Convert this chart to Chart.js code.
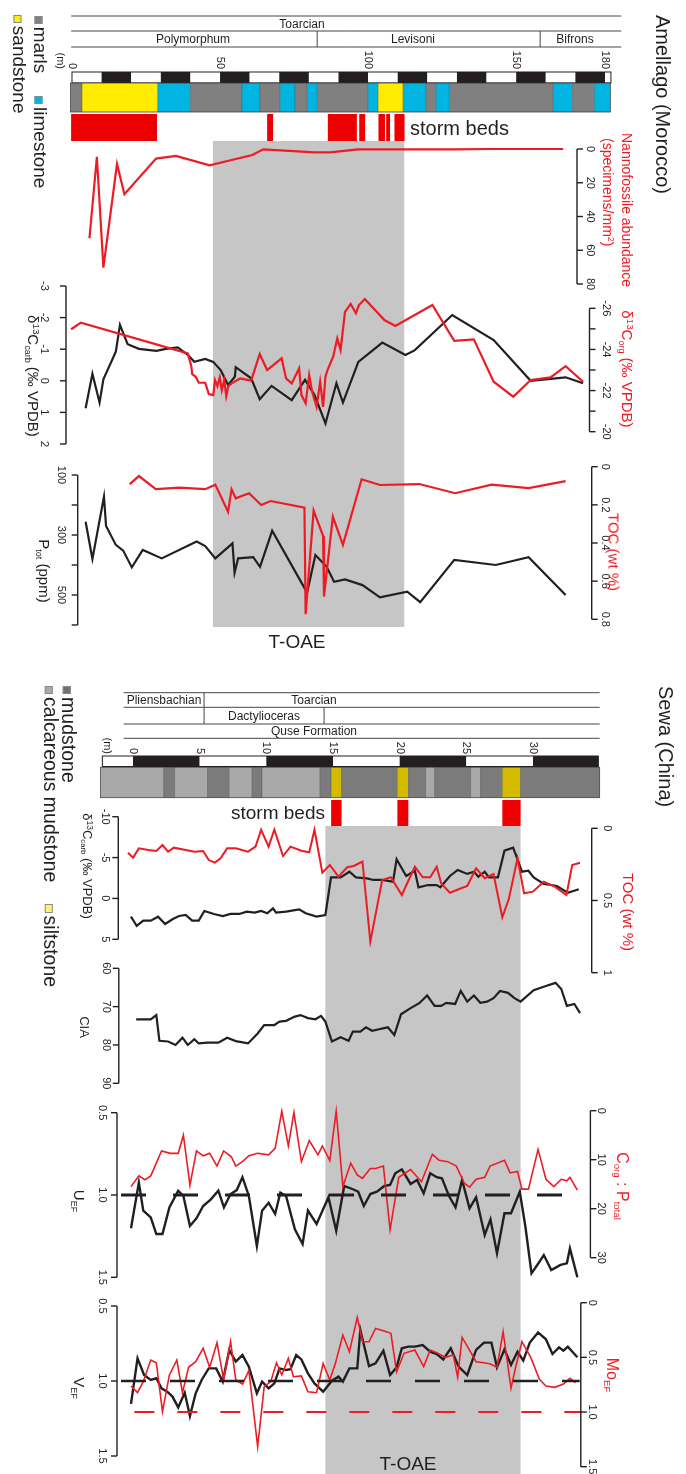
<!DOCTYPE html>
<html>
<head>
<meta charset="utf-8">
<title>Amellago / Sewa T-OAE</title>
<script src="https://cdn.jsdelivr.net/npm/chart.js@4.4.1/dist/chart.umd.min.js"></script>
<style>
  html, body { margin: 0; padding: 0; background: #fff; }
  #page { position: relative; width: 686px; height: 1474px; overflow: hidden;
          font-family: "Liberation Sans", Arial, sans-serif; color: #231f20; }
  #fig { position: absolute; left: 0; top: 0; }
  .lbl { position: absolute; white-space: nowrap; line-height: 1; transform-origin: 0 0; }
  .sp { position: relative; top: -0.5em; font-size: 65%; }
  .sb { position: relative; top: 0.3em; font-size: 60%; }
  .sw { display: inline-block; width: 0.42em; height: 0.42em; vertical-align: middle;
        margin-right: 0.15em; box-sizing: border-box; border: 1px solid #8a8a8a; }
</style>
</head>
<body>
<div id="page"><canvas id="fig" width="686" height="1474"></canvas></div>
<script>
var RED = '#ed1c24';
var INK = '#231f20';
var SHADE = '#c6c6c6';
var FONT = '"Liberation Sans", Arial, sans-serif';

/* ================= Amellago (Morocco), depth in m ================= */
var amDepthTicks = [0, 50, 100, 150, 180];
var amScaleEdges = [0, 10, 20, 30, 40, 50, 60, 70, 80, 90, 100, 110, 120, 130, 140, 150, 160, 170, 180, 182];
var amLithoEdges = [-0.5, 3.4, 29, 40, 57.4, 63.5, 70.3, 75.3, 79.4, 82.8, 100, 103.4, 111.8, 119.6, 123, 127.4, 162.5, 169, 176.4, 181.8];
var amLithoKind = ['marl', 'sand', 'lime', 'marl', 'lime', 'marl', 'lime', 'marl', 'lime', 'marl',
                   'lime', 'sand', 'lime', 'marl', 'lime', 'marl', 'lime', 'marl', 'lime'];
var amStormFrom = [-0.3, 65.9, 86.4, 97.0, 103.5, 106.1, 108.9];
var amStormTo = [28.7, 67.9, 96.2, 99.0, 105.7, 107.4, 112.3];
var amToae = [47.6, 112.2];
var amHeaderSpan = [-0.3, 185.5];
var amZoneBreaks = [82.8, 158.1];

// nannofossil abundance (specimens/mm2)
var amNannoM = [5.9, 8.4, 10.6, 15.2, 17.7, 28.4, 35.1, 46.5, 53.9, 60.9, 64.6, 81.9, 87.1, 96.6, 129, 140.9, 165.9];
var amNanno = [52.9, 4.6, 70.3, 8.9, 26.8, 5.7, 4.1, 9.7, 6.5, 3.6, 0.2, 2.0, 2.0, 0.2, 0.2, 0, 0];
var amNannoTicks = [0, 20, 40, 60, 80];

// d13C carb (black) and d13C org (red)
var amCarbM = [4.6, 6.9, 9.3, 10.6, 14.8, 16.2, 18.8, 22.6, 28.5, 31.7, 35.7, 39.1, 41.3, 45.0, 47.7, 50.2, 52.7, 55.0, 55.3,
               60.5, 63.4, 67.4, 74.2, 78.7, 81.9, 85.6, 89.3, 91.5, 96.7, 104.8, 112.6, 115.8, 128.4, 142.4, 154.9, 166.7, 172.6];
var amCarb = [0.87, -0.22, 0.69, -0.05, -0.92, -1.77, -1.16, -1.01, -0.95, -1.01, -1.06, -0.82, -0.6, -0.69, -0.6, -0.34, 0.13, -0.13, -0.43,
              -0.08, 0.58, 0.16, 0.61, -0.03, 0.45, 1.35, 0.08, 0.69, -0.6, -1.21, -0.82, -0.97, -2.08, -1.29, 0, -0.11, 0.08];
var amCarbTicks = [-3, -2, -1, 0, 1, 2];

var amOrgM = [-0.3, 3.0, 39.1, 40.3, 40.6, 41.8, 42.8, 45.0, 46.2, 47.7, 48.3, 49.1, 49.9, 50.6, 51.4, 52.1, 52.8, 53.9,
              56.8, 60.5, 63.4, 65.9, 70.8, 72.3, 74.2, 76.7, 77.5, 78.9, 80.1, 81.1, 82.6, 83.8, 84.8, 85.6, 86.3, 88.2,
              89.6, 90.7, 92.2, 94.1, 95.9, 96.9, 98.9, 105.5, 109.2, 121.7, 129.1, 135.7, 142.4, 149.0, 154.9, 161.6, 166.7, 172.6];
var amOrg = [-24.98, -25.3, -23.81, -23.19, -22.8, -22.67, -22.38, -22.38, -21.83, -21.78, -22.51, -22.22, -22.64, -22.02, -22.51, -21.73, -22.22, -22.35,
             -22.59, -22.48, -23.78, -23.0, -23.57, -22.59, -22.35, -23.08, -21.78, -21.38, -22.75, -21.94, -21.21, -22.43, -21.21, -22.67, -23.0, -23.65,
             -24.54, -23.97, -25.83, -26.21, -25.76, -26.16, -26.45, -25.43, -25.14, -26.16, -24.42, -24.49, -22.43, -21.7, -22.51, -22.64, -23.19, -22.43];
var amOrgTicks = [-26, -24, -22, -20];
var amOrgMinor = [-25, -23, -21];

// P tot (ppm, black) and TOC (wt %, red)
var amPM = [4.6, 6.9, 10.8, 11.5, 14.8, 17.3, 20.2, 23.9, 30.3, 42.1, 45.0, 48.4, 54.2, 54.9, 56.1, 61.2,
            63.5, 67.6, 79.4, 82.2, 86.0, 88.5, 92.2, 98.1, 104.0, 113.2, 117.6, 129.1, 143.1, 154.2, 166.7];
var amP = [256, 380, 172, 270, 333, 352, 408, 350, 378, 322, 337, 378, 328, 426, 378, 374,
           406, 286, 492, 367, 406, 456, 448, 467, 508, 489, 524, 383, 400, 374, 500];
var amPTicks = [100, 200, 300, 400, 500, 600];
var amPLabels = ['100', '', '300', '', '500', ''];

var amTocM = [19.5, 22.6, 28.3, 36.2, 45.0, 48.4, 52.7, 53.9, 55.3, 59.8, 63.9, 67.1, 78.5, 78.9, 81.6, 84.8,
              85.1, 88.1, 91.5, 97.8, 104.0, 117.3, 129.4, 141.7, 154.2, 166.7];
var amToc = [0.091, 0.049, 0.118, 0.110, 0.118, 0.094, 0.236, 0.118, 0.166, 0.139, 0.201, 0.180, 0.215, 0.773, 0.230, 0.363,
             0.681, 0.262, 0.410, 0.066, 0.096, 0.091, 0.139, 0.094, 0.112, 0.076];
var amTocTicks = [0, 0.2, 0.4, 0.6, 0.8];
var amTocLabels = ['0', '0.2', '0.4', '0.6', '0.8'];

/* ================= Sewa (China), depth in m ================= */
var swDepthTicks = [0, 5, 10, 15, 20, 25, 30];
var swScaleEdges = [-2.3, 0, 5, 10, 15, 20, 25, 30, 34.9];
var swLithoEdges = [-2.44, 2.31, 3.13, 5.58, 7.22, 8.93, 9.68, 14.03, 14.86, 15.64, 19.83, 20.65, 21.96, 22.62, 25.33, 26.05, 27.7, 29.07, 35.0];
var swLithoKind = ['calc', 'mud', 'calc', 'mud', 'calc', 'mud', 'calc', 'mud', 'silt', 'mud', 'silt', 'mud', 'calc', 'mud', 'calc', 'mud', 'silt', 'mud'];
var swStormFrom = [14.86, 19.83, 27.7];
var swStormTo = [15.64, 20.65, 29.07];
var swToae = [14.43, 29.07];
var swHeaderSpan = [-0.7, 35.0];
var swStageBreak = 5.33;
var swZoneBreak = 14.33;

// d13C carb (black) and TOC (red)
var swCarbM = [-0.15, 0.28, 0.77, 1.33, 1.88, 2.41, 2.96, 3.45, 3.95, 4.44, 4.93, 5.35, 6.07, 6.73, 7.32, 7.97, 8.53, 9.12, 9.61, 10.07,
               10.5, 10.73, 11.48, 12.46, 12.95, 13.77, 14.43, 14.85, 15.57, 16.23, 16.72, 17.54, 18.03, 18.69, 19.5, 19.77, 20.49, 21.14, 21.41, 22.13,
               22.78, 23.05, 23.77, 24.35, 25.07, 25.57, 25.9, 26.38, 26.71, 27.37, 27.86, 28.51, 28.84, 29.17, 29.66, 30.05, 30.81, 31.37, 31.79, 32.61, 33.43];
var swCarb = [2.23, 3.37, 2.72, 2.72, 2.23, 3.13, 2.55, 2.15, 2.03, 2.72, 2.72, 1.54, 1.9, 2.15, 1.9, 1.9, 1.62, 1.74, 1.54, 1.82,
              1.21, 1.74, 1.62, 1.33, 1.82, 2.23, 2.03, -2.58, -2.58, -3.27, -2.58, -2.46, -2.26, -2.26, -2.05, -4.79, -2.75, -3.39, -1.36, -1.64,
              -1.64, -1.36, -2.75, -3.48, -3.0, -3.27, -2.66, -3.27, -2.58, -2.58, -5.84, -6.21, -4.79, -3.27, -3.39, -2.58, -1.77, -1.64, -1.52, -0.70, -1.12];
var swCarbTicks = [-10, -5, 0, 5];

var swTocM = [-0.38, 0.01, 0.44, 1.16, 1.75, 2.21, 2.63, 3.06, 3.95, 4.6, 5.26, 5.68, 6.14, 6.57, 7.06, 7.71, 8.63, 9.19, 9.61, 10.17,
              10.6, 11.25, 11.81, 12.63, 13.22, 13.61, 14.2, 14.76, 15.41, 16.07, 16.56, 17.21, 17.8, 18.69, 19.34, 20.16, 21.14, 21.73, 22.29, 22.78,
              23.11, 23.77, 24.42, 25.07, 25.73, 26.38, 27.04, 27.7, 28.18, 28.84, 29.33, 29.99, 30.81, 31.63, 32.51, 32.94, 33.53];
var swToc = [0.169, 0.203, 0.139, 0.15, 0.157, 0.116, 0.162, 0.134, 0.15, 0.162, 0.157, 0.22, 0.238, 0.208, 0.139, 0.139, 0.162, 0.127, 0.01, 0.127,
             0.01, 0.192, 0.127, 0.155, 0.166, 0.01, 0.307, 0.254, 0.335, 0.27, 0.261, 0.231, 0.785, 0.358, 0.339, 0.462, 0.266, 0.339, 0.339, 0.266,
             0.381, 0.446, 0.422, 0.4, 0.277, 0.346, 0.316, 0.616, 0.492, 0.208, 0.45, 0.439, 0.37, 0.404, 0.462, 0.254, 0.238];
var swTocTicks = [0, 0.5, 1];
var swTocLabels = ['0', '0.5', '1'];

// CIA
var swCiaM = [0.24, 1.33, 1.75, 1.98, 2.63, 3.19, 3.71, 4.11, 4.6, 4.93, 5.58, 6.4, 7.06, 7.71, 8.63, 9.35, 9.84, 10.6, 10.99, 11.48,
              12.14, 12.56, 13.12, 13.68, 14.1, 14.43, 14.92, 15.57, 16.17, 16.49, 17.05, 17.47, 17.93, 18.45, 19.11, 19.6, 20.1, 20.82, 21.47, 22.06,
              22.62, 23.11, 23.5, 24.16, 24.58, 25.07, 25.57, 26.05, 26.55, 27.04, 27.53, 28.12, 28.61, 29.07, 30.05, 30.97, 31.69, 32.12, 32.54, 33.1, 33.53];
var swCia = [73.3, 73.3, 72.2, 78.9, 79.1, 80.0, 78.1, 80.0, 78.5, 79.6, 79.4, 79.4, 78.1, 79.0, 79.6, 77.0, 74.8, 74.8, 73.9, 73.7,
             72.6, 72.2, 73.0, 73.3, 72.4, 73.9, 79.1, 78.0, 78.9, 76.5, 76.5, 75.4, 76.3, 75.9, 75.4, 77.4, 72.0, 70.4, 69.1, 67.1,
             69.8, 69.8, 69.0, 69.3, 65.9, 68.7, 67.1, 69.0, 68.7, 67.8, 65.9, 66.4, 67.8, 68.7, 65.7, 64.6, 63.8, 65.4, 69.8, 69.3, 71.7];
var swCiaTicks = [60, 70, 80, 90];

// U EF (black) and Corg:Ptotal (red)
var swUM = [-0.15, 0.44, 0.77, 1.33, 1.75, 2.21, 2.73, 3.39, 3.78, 4.27, 4.76, 5.26, 5.84, 6.4, 6.82, 7.32, 7.78, 8.21, 8.69, 9.29,
            9.68, 10.17, 10.66, 11.05, 11.48, 12.14, 12.72, 13.12, 13.77, 14.66, 15.24, 15.84, 16.49, 16.89, 17.31, 17.8, 18.29, 18.85, 19.28, 19.67,
            20.16, 20.82, 21.3, 21.8, 22.29, 22.78, 23.17, 23.7, 24.19, 24.68, 25.24, 25.73, 26.38, 26.81, 27.3, 27.86, 28.35, 29.01, 29.43, 29.89,
            30.32, 30.81, 31.37, 32.06, 32.54, 32.77, 33.33];
var swU = [1.202, 0.925, 1.095, 1.136, 1.237, 1.237, 1.075, 0.974, 1.006, 1.188, 1.142, 1.067, 1.026, 0.974, 1.075, 0.994, 0.97, 0.892, 1.006, 1.31,
           1.095, 1.047, 1.115, 0.986, 1.006, 1.208, 1.298, 1.095, 1.176, 1.014, 1.217, 0.945, 0.965, 0.98, 1.067, 0.994, 0.98, 0.945, 0.939, 0.868,
           0.844, 0.933, 0.909, 0.99, 0.868, 0.892, 0.899, 1.006, 1.075, 0.909, 1.081, 1.014, 1.243, 1.148, 1.354, 1.111, 1.111, 0.98, 1.193, 1.476,
           1.425, 1.365, 1.456, 1.425, 1.415, 1.324, 1.5];
var swUTicks = [0.5, 1.0, 1.5];
var swEfLabels = ['0.5', '1.0', '1.5'];
var swURefM = [-0.9, 33.6];
var swURef = [1.0, 1.0];

var swCpM = [-0.15, 0.44, 0.9, 1.33, 2.14, 2.8, 3.39, 3.78, 4.27, 4.76, 5.26, 5.75, 6.3, 6.8, 7.38, 7.71, 8.21, 8.69, 9.35, 10.17,
             10.66, 11.16, 11.65, 12.07, 12.63, 13.22, 13.87, 14.2, 14.76, 15.24, 15.74, 16.33, 16.82, 17.21, 17.8, 18.19, 18.78, 19.28, 19.93, 20.82,
             21.63, 22.45, 22.95, 23.6, 24.25, 24.85, 25.24, 25.73, 26.38, 26.78, 27.86, 28.28, 28.84, 29.17, 29.66, 30.38, 30.97, 31.56, 32.12, 32.54,
             32.77, 33.33];
var swCp = [15.5, 13.3, 14.1, 13.3, 8.2, 8.7, 8.7, 5.0, 15.2, 8.2, 9.2, 8.7, 11.3, 8.2, 9.4, 11.3, 10.4, 9.2, 8.7, 9.0,
            7.7, 0.1, 7.2, 0.4, 10.4, 6.1, 9.0, 7.2, 10.2, 0.1, 15.5, 10.7, 13.1, 13.8, 11.8, 11.8, 11.3, 24.3, 13.6, 12.0,
            14.5, 8.9, 10.1, 10.4, 11.3, 14.8, 15.6, 14.0, 13.6, 11.3, 10.1, 12.7, 12.4, 16.0, 16.0, 7.9, 14.0, 15.5, 14.0, 14.3,
            13.6, 16.2];
var swCpTicks = [0, 10, 20, 30];

// V EF (black) and Mo EF (red)
var swVM = [-0.15, 0.34, 0.83, 1.33, 1.75, 2.14, 2.57, 2.96, 3.39, 3.88, 4.27, 4.7, 5.15, 5.68, 6.24, 6.73, 7.22, 7.71, 8.21, 8.69,
            9.29, 9.68, 10.17, 10.6, 10.99, 11.48, 11.81, 12.24, 12.63, 13.12, 13.61, 14.26, 14.92, 15.41, 15.74, 16.23, 16.82, 17.05, 17.7, 18.19,
            18.78, 19.28, 19.77, 20.16, 20.65, 21.14, 21.73, 22.29, 22.78, 23.27, 23.83, 24.42, 25.07, 25.73, 26.32, 26.88, 27.3, 27.86, 28.35, 28.84,
            29.27, 29.76, 30.38, 30.97, 31.46, 31.95, 32.28, 32.61, 33.33];
var swV = [1.153, 0.849, 0.96, 0.993, 0.982, 1.049, 1.071, 1.104, 1.176, 1.078, 1.233, 1.082, 0.993, 0.916, 0.916, 1.004, 0.793, 0.871, 0.827, 0.904,
           1.082, 1.004, 1.049, 1.016, 0.916, 0.927, 0.922, 0.827, 0.856, 0.949, 1.016, 1.071, 0.998, 0.971, 1.004, 0.916, 0.916, 0.66, 0.9, 0.882,
           0.798, 0.96, 0.909, 0.782, 0.771, 0.771, 0.76, 0.804, 0.82, 0.856, 0.782, 0.904, 0.96, 0.793, 0.744, 0.744, 0.909, 0.789, 0.893, 0.804,
           0.864, 0.744, 0.676, 0.722, 0.82, 0.776, 0.798, 0.771, 0.842];
var swVTicks = [0.5, 1.0, 1.5];
var swVRefM = [-0.9, 33.5];
var swVRef = [1.0, 1.0];

var swMoM = [-0.15, 0.34, 0.77, 1.33, 1.75, 2.21, 2.73, 3.29, 3.71, 4.17, 4.7, 5.26, 5.75, 6.3, 6.8, 7.32, 7.71, 8.21, 8.69, 9.35,
             9.84, 10.33, 10.76, 11.16, 11.65, 12.03, 12.63, 13.12, 13.77, 14.26, 14.76, 15.18, 15.74, 16.23, 16.82, 17.21, 17.7, 18.19, 18.78, 19.34,
             19.77, 20.33, 21.14, 21.8, 22.29, 22.78, 23.43, 24.02, 24.35, 24.68, 25.24, 25.73, 26.32, 26.81, 27.3, 27.76, 28.35, 28.68, 29.17, 29.83,
             30.48, 30.97, 31.63, 32.28, 32.77, 33.19];
var swMo = [0.762, 0.823, 0.722, 0.524, 0.549, 0.997, 0.661, 0.524, 0.823, 0.591, 0.54, 0.417, 0.591, 0.366, 0.707, 0.357, 0.707, 0.744, 0.622, 1.317,
            0.768, 0.722, 0.549, 0.661, 0.509, 0.677, 0.67, 0.814, 0.823, 0.555, 0.707, 0.555, 0.296, 0.448, 0.134, 0.357, 0.357, 0.235, 0.256, 0.28,
            0.631, 0.463, 0.433, 0.585, 0.433, 0.457, 0.5, 0.478, 0.682, 0.317, 0.433, 0.54, 0.549, 0.561, 0.591, 0.265, 0.783, 0.6, 0.357, 0.5,
            0.701, 0.762, 0.774, 0.744, 0.692, 0.732];
var swMoTicks = [0, 0.5, 1.0, 1.5];
var swMoLabels = ['0', '0.5', '1.0', '1.5'];
var swMoRefM = [0.1, 33.6];
var swMoRef = [1.0, 1.0];

/* ================= layout (pixels) ================= */
// pixel band of each scale: [start, end] <-> [min, max] of its range
// (depth scales are a bit wider than the data so no point is dropped)
var bands = {
  xA: [57.19, 634.61], yNano: [149, 284], yCarbA: [286, 444], yOrgA: [308.3, 431.7], yPA: [475, 625], yTocA: [466.7, 619.3],
  xS: [93, 613], yCarbS: [816.7, 939.3], yTocS: [828.3, 972.7], yCia: [968.3, 1083.3],
  yU: [1112.7, 1277.3], yCP: [1110.7, 1257.7], yV: [1306, 1456], yMo: [1302.7, 1466.7]
};
var amRows = { header: [16, 31, 47], scale: [72, 83], litho: [83, 112], storm: [114, 141], shade: [141, 627], depthEnd: 69 };
var swRows = { header: [692.7, 707.3, 724, 738.3], scale: [756, 766.5], litho: [767.3, 797.7], storm: [800, 826], shade: [826, 1474], depthEnd: 754 };

var LITHO = { marl: '#808080', sand: '#ffec00', lime: '#00b5e2', calc: '#a9a9a9', mud: '#7b7b7b', silt: '#d5bb00' };

// axes: scale id, x of the axis line, tick direction, x of tick labels
var axisDefs = [
  { id: 'yNano', x: 577, dir: 1, lx: 590, ticks: amNannoTicks },
  { id: 'yCarbA', x: 66, dir: -1, lx: 44, ticks: amCarbTicks },
  { id: 'yOrgA', x: 589.5, dir: 1, lx: 606, ticks: amOrgTicks, minor: amOrgMinor },
  { id: 'yPA', x: 77.7, dir: -1, lx: 61, ticks: amPTicks, labels: amPLabels },
  { id: 'yTocA', x: 591.7, dir: 1, lx: 605, ticks: amTocTicks, labels: amTocLabels },
  { id: 'yCarbS', x: 118.3, dir: -1, lx: 105, ticks: swCarbTicks },
  { id: 'yTocS', x: 591.7, dir: 1, lx: 607, ticks: swTocTicks, labels: swTocLabels },
  { id: 'yCia', x: 118.8, dir: -1, lx: 106, ticks: swCiaTicks },
  { id: 'yU', x: 117, dir: -1, lx: 102, ticks: swUTicks, labels: swEfLabels },
  { id: 'yCP', x: 590.4, dir: 1, lx: 601, ticks: swCpTicks },
  { id: 'yV', x: 117, dir: -1, lx: 102, ticks: swVTicks, labels: swEfLabels },
  { id: 'yMo', x: 580.8, dir: 1, lx: 592, ticks: swMoTicks, labels: swMoLabels }
];

function zip(xs, ys) {
  var out = [];
  for (var i = 0; i < xs.length; i++) out.push({ x: xs[i], y: ys[i] });
  return out;
}

function series(xs, ys, xId, yId, color, width, dash) {
  return {
    data: zip(xs, ys), xAxisID: xId, yAxisID: yId,
    borderColor: color, borderWidth: width, borderDash: dash || [],
    pointRadius: 0, tension: 0, fill: false, clip: false, borderJoinStyle: 'miter'
  };
}

function lin(min, max) {
  return { type: 'linear', display: false, min: min, max: max, reverse: true, bounds: 'data' };
}

/* ---------- drawing helpers (all positions from the scales) ---------- */
function span(ctx, scale, v0, v1, row) {
  var x0 = scale.getPixelForValue(v0), x1 = scale.getPixelForValue(v1);
  ctx.fillRect(x0, row[0], x1 - x0, row[1] - row[0]);
}

function outline(ctx, scale, v0, v1, row, color, w) {
  var x0 = scale.getPixelForValue(v0), x1 = scale.getPixelForValue(v1);
  ctx.strokeStyle = color; ctx.lineWidth = w;
  ctx.strokeRect(x0, row[0], x1 - x0, row[1] - row[0]);
}

function hline(ctx, scale, sp, y) {
  ctx.beginPath();
  ctx.moveTo(scale.getPixelForValue(sp[0]), y);
  ctx.lineTo(scale.getPixelForValue(sp[1]), y);
  ctx.stroke();
}

function vline(ctx, scale, v, y0, y1) {
  var x = scale.getPixelForValue(v);
  ctx.beginPath(); ctx.moveTo(x, y0); ctx.lineTo(x, y1); ctx.stroke();
}

function rotText(ctx, text, x, y, align) {
  ctx.save();
  ctx.translate(x, y);
  ctx.rotate(Math.PI / 2);
  ctx.textAlign = align || 'center';
  ctx.textBaseline = 'middle';
  ctx.fillText(text, 0, 0);
  ctx.restore();
}

function drawColumn(ctx, scale, rows, scaleEdges, lithoEdges, lithoKind, stormFrom, stormTo, depthTicks) {
  var i;
  // scale bar, alternating white / black
  for (i = 0; i < scaleEdges.length - 1; i++) {
    ctx.fillStyle = i % 2 ? INK : '#fff';
    span(ctx, scale, scaleEdges[i], scaleEdges[i + 1], rows.scale);
  }
  outline(ctx, scale, scaleEdges[0], scaleEdges[scaleEdges.length - 1], rows.scale, INK, 1);
  // lithology
  for (i = 0; i < lithoKind.length; i++) {
    ctx.fillStyle = LITHO[lithoKind[i]];
    span(ctx, scale, lithoEdges[i], lithoEdges[i + 1], rows.litho);
    outline(ctx, scale, lithoEdges[i], lithoEdges[i + 1], rows.litho, 'rgba(60,60,60,0.45)', 0.6);
  }
  outline(ctx, scale, lithoEdges[0], lithoEdges[lithoEdges.length - 1], rows.litho, 'rgba(50,50,50,0.7)', 0.8);
  // storm beds
  ctx.fillStyle = '#ee0000';
  for (i = 0; i < stormFrom.length; i++) span(ctx, scale, stormFrom[i], stormTo[i], rows.storm);
  // depth labels
  ctx.fillStyle = INK;
  ctx.font = '11px ' + FONT;
  depthTicks.forEach(function (v) {
    rotText(ctx, String(v), scale.getPixelForValue(v), rows.depthEnd, 'right');
  });
}

function drawAxis(ctx, chart, a) {
  var s = chart.scales[a.id];
  var yTop = s.getPixelForValue(a.ticks[0]);
  var yBot = s.getPixelForValue(a.ticks[a.ticks.length - 1]);
  ctx.strokeStyle = INK;
  ctx.lineWidth = 1.4;
  ctx.beginPath(); ctx.moveTo(a.x, yTop); ctx.lineTo(a.x, yBot); ctx.stroke();
  ctx.font = '11px ' + FONT;
  ctx.fillStyle = INK;
  a.ticks.forEach(function (v, i) {
    var y = s.getPixelForValue(v);
    ctx.beginPath(); ctx.moveTo(a.x, y); ctx.lineTo(a.x + a.dir * 6, y); ctx.stroke();
    var t = a.labels ? a.labels[i] : String(v);
    if (t) rotText(ctx, t, a.lx, y);
  });
  (a.minor || []).forEach(function (v) {
    var y = s.getPixelForValue(v);
    ctx.beginPath(); ctx.moveTo(a.x, y); ctx.lineTo(a.x + a.dir * 6, y); ctx.stroke();
  });
}

var figPlugin = {
  id: 'figure',
  // pin every scale to its own pixel band, before the lines are laid out
  afterLayout: function (chart) {
    Object.keys(bands).forEach(function (id) {
      var s = chart.scales[id], b = bands[id];
      if (s.isHorizontal()) { s.left = b[0]; s.right = b[1]; s.width = b[1] - b[0]; }
      else { s.top = b[0]; s.bottom = b[1]; s.height = b[1] - b[0]; }
      s.configure();
    });
  },
  beforeDatasetsDraw: function (chart) {
    var ctx = chart.ctx, xa = chart.scales.xA, xs = chart.scales.xS;
    ctx.save();
    // T-OAE shading
    ctx.fillStyle = SHADE;
    span(ctx, xa, amToae[0], amToae[1], amRows.shade);
    span(ctx, xs, swToae[0], swToae[1], swRows.shade);

    // stratigraphic headers
    ctx.strokeStyle = '#4a4446';
    ctx.lineWidth = 1;
    amRows.header.forEach(function (y) { hline(ctx, xa, amHeaderSpan, y); });
    amZoneBreaks.forEach(function (v) { vline(ctx, xa, v, amRows.header[1], amRows.header[2]); });
    swRows.header.forEach(function (y) { hline(ctx, xs, swHeaderSpan, y); });
    vline(ctx, xs, swStageBreak, swRows.header[0], swRows.header[2]);
    vline(ctx, xs, swZoneBreak, swRows.header[1], swRows.header[2]);

    drawColumn(ctx, xa, amRows, amScaleEdges, amLithoEdges, amLithoKind, amStormFrom, amStormTo, amDepthTicks);
    drawColumn(ctx, xs, swRows, swScaleEdges, swLithoEdges, swLithoKind, swStormFrom, swStormTo, swDepthTicks);
    ctx.restore();
  },
  afterDatasetsDraw: function (chart) {
    var ctx = chart.ctx;
    ctx.save();
    axisDefs.forEach(function (a) { drawAxis(ctx, chart, a); });
    ctx.restore();
  }
};

var chart = new Chart(document.getElementById('fig'), {
  type: 'line',
  data: {
    datasets: [
      series(amNannoM, amNanno, 'xA', 'yNano', RED, 2.2),
      series(amOrgM, amOrg, 'xA', 'yOrgA', RED, 2.2),
      series(amCarbM, amCarb, 'xA', 'yCarbA', INK, 2.2),
      series(amTocM, amToc, 'xA', 'yTocA', RED, 2.2),
      series(amPM, amP, 'xA', 'yPA', INK, 2.2),
      series(swTocM, swToc, 'xS', 'yTocS', RED, 2),
      series(swCarbM, swCarb, 'xS', 'yCarbS', INK, 2.2),
      series(swCiaM, swCia, 'xS', 'yCia', INK, 2.2),
      series(swURefM, swURef, 'xS', 'yU', INK, 3, [25, 27]),
      series(swCpM, swCp, 'xS', 'yCP', RED, 1.6),
      series(swUM, swU, 'xS', 'yU', INK, 2.4),
      series(swVRefM, swVRef, 'xS', 'yV', INK, 2.6, [25, 24]),
      series(swMoRefM, swMoRef, 'xS', 'yMo', RED, 2, [20, 23]),
      series(swMoM, swMo, 'xS', 'yMo', RED, 1.6),
      series(swVM, swV, 'xS', 'yV', INK, 2.4)
    ]
  },
  options: {
    responsive: false,
    animation: false,
    devicePixelRatio: 1,
    layout: { padding: 0, autoPadding: false },
    plugins: { legend: { display: false }, tooltip: { enabled: false } },
    events: [],
    scales: {
      xA: { type: 'linear', display: false, min: -5, max: 190, bounds: 'data' },
      xS: { type: 'linear', display: false, min: -3, max: 36, bounds: 'data' },
      yNano: lin(0, 80),
      yCarbA: lin(-3, 2),
      yOrgA: lin(-26, -20),
      yPA: lin(100, 600),
      yTocA: lin(0, 0.8),
      yCarbS: lin(-10, 5),
      yTocS: lin(0, 1),
      yCia: lin(60, 90),
      yU: lin(0.5, 1.5),
      yCP: lin(0, 30),
      yV: lin(0.5, 1.5),
      yMo: lin(0, 1.5)
    }
  },
  plugins: [figPlugin]
});

/* ---------- text labels ---------- */
var page = document.getElementById('page');

function addLabel(html, x, y, o) {
  o = o || {};
  var d = document.createElement('div');
  d.className = 'lbl';
  d.innerHTML = html;
  d.style.left = x + 'px';
  d.style.top = y + 'px';
  d.style.fontSize = (o.size || 14) + 'px';
  if (o.color) d.style.color = o.color;
  var ax = { start: '0', center: '-50%', end: '-100%' }[o.anchor || 'center'];
  d.style.transform = (o.rot ? 'rotate(90deg) ' : '') + 'translate(' + ax + ',-50%)';
  page.appendChild(d);
}

function swatch(color) {
  return '<span class="sw" style="background:' + color + '"></span>';
}
function gap(w) {
  return '<span style="display:inline-block;width:' + w + 'px"></span>';
}

// Amellago
addLabel('Toarcian', 302, 23.5, { size: 12 });
addLabel('Polymorphum', 193, 39, { size: 12 });
addLabel('Levisoni', 413, 39, { size: 12 });
addLabel('Bifrons', 575, 39, { size: 12 });
addLabel('(m)', 60, 69, { size: 11, rot: true, anchor: 'end' });
addLabel('storm beds', 410, 128, { size: 20, anchor: 'start' });
addLabel('Amellago (Morocco)', 663, 15, { size: 20, rot: true, anchor: 'start' });
addLabel(swatch('#808080') + 'marls' + gap(23) + swatch('#00b5e2') + 'limestone', 40, 16, { size: 19, rot: true, anchor: 'start' });
addLabel(swatch('#ffec00') + 'sandstone', 19, 15, { size: 19, rot: true, anchor: 'start' });
addLabel('Nannofossile abundance', 627, 133, { size: 14, rot: true, anchor: 'start', color: RED });
addLabel('(specimens/mm<span class="sp">2</span>)', 608, 138, { size: 14, rot: true, anchor: 'start', color: RED });
addLabel('δ<span class="sp">13</span>C<span class="sb">carb</span> (‰ VPDB)', 33, 376, { size: 15, rot: true });
addLabel('δ<span class="sp">13</span>C<span class="sb">org</span> (‰ VPDB)', 627, 369, { size: 15, rot: true, color: RED });
addLabel('P<span class="sb">tot</span> (ppm)', 44, 571, { size: 15, rot: true });
addLabel('TOC (wt %)', 614, 552, { size: 15, rot: true, color: RED });
addLabel('T-OAE', 297, 641, { size: 19 });

// Sewa
addLabel('Pliensbachian', 164, 700, { size: 12 });
addLabel('Toarcian', 314, 700, { size: 12 });
addLabel('Dactylioceras', 264, 715.6, { size: 12 });
addLabel('Quse Formation', 314, 731, { size: 12 });
addLabel('(m)', 107, 754, { size: 11, rot: true, anchor: 'end' });
addLabel('storm beds', 325, 812, { size: 19, anchor: 'end' });
addLabel('Sewa (China)', 666, 686, { size: 20, rot: true, anchor: 'start' });
addLabel(swatch('#6f6f6f') + 'mudstone', 68, 686, { size: 19.5, rot: true, anchor: 'start' });
addLabel(swatch('#a9a9a9') + 'calcareous mudstone' + gap(22) + swatch('#fff27a') + 'siltstone', 50, 686, { size: 19.5, rot: true, anchor: 'start' });
addLabel('δ<span class="sp">13</span>C<span class="sb">carb</span> (‰ VPDB)', 87, 866, { size: 13, rot: true });
addLabel('TOC (wt %)', 628, 912, { size: 15, rot: true, color: RED });
addLabel('CIA', 84, 1027, { size: 13, rot: true });
addLabel('U<span class="sb">EF</span>', 79, 1201, { size: 15, rot: true });
addLabel('C<span class="sb">org</span> : P<span class="sb">total</span>', 622, 1186, { size: 16, rot: true, color: RED });
addLabel('V<span class="sb">EF</span>', 79, 1388, { size: 15, rot: true });
addLabel('Mo<span class="sb">EF</span>', 612, 1375, { size: 16, rot: true, color: RED });
addLabel('T-OAE', 408, 1463, { size: 19 });
</script>
</body>
</html>
